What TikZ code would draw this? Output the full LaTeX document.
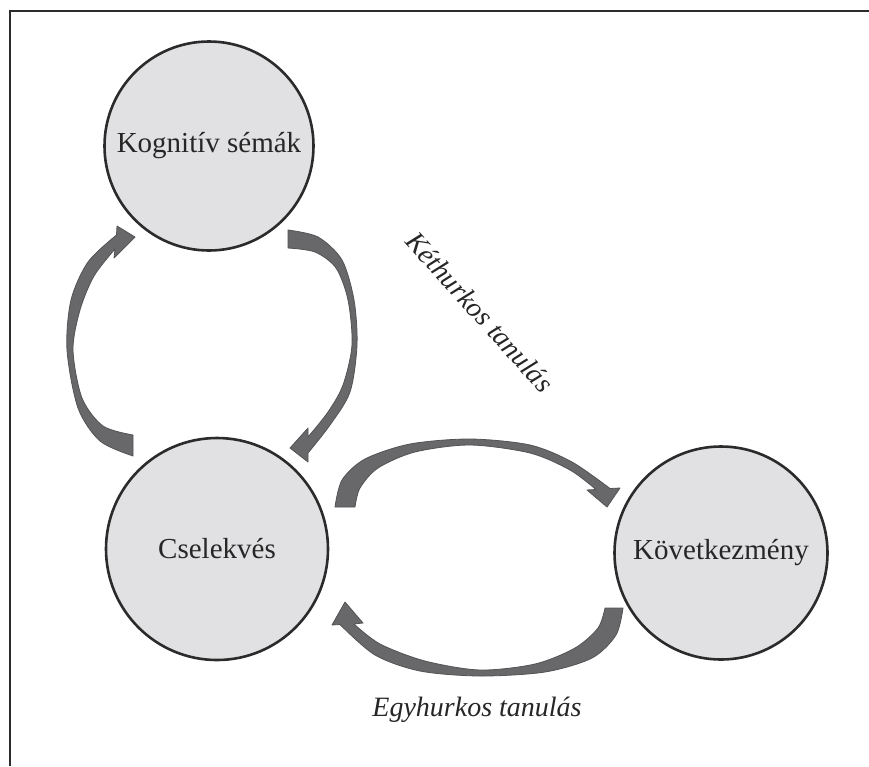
\documentclass[tikz,border=0pt]{standalone}
\usepackage{fontspec}
\setmainfont{Liberation Serif}
\usepackage{xcolor}
\usepackage{tikz}
\definecolor{korszurke}{HTML}{E1E1E3}
\definecolor{nyilszurke}{HTML}{68686B}
\definecolor{vonal}{HTML}{2B2B2B}

\begin{document}
\begin{tikzpicture}[x=1pt, y=-1pt,
        kor/.style={circle, draw=vonal, line width=2.6pt, fill=korszurke, inner sep=0pt,
            text=black!85, font=\fontsize{29}{32}\selectfont},
        nyil/.style={fill=nyilszurke, draw=nyilszurke!80!black, line width=0.8pt, line join=round},
        felirat/.style={text=black!85, font=\fontsize{28}{32}\selectfont\itshape}]
        \useasboundingbox (0, 0) rectangle (869, 766);
        \draw[vonal, line width=2.4pt] (10, 766) -- (10, 11) -- (869, 11);

        \node[kor, minimum size=209pt] (kog) at (209, 146) {Kognitív sémák};
        \node[kor, minimum size=222pt] (csel) at (217, 549) {Cselekvés};
        \node[kor, minimum size=213pt] (kov) at (721, 553) {Következmény};

        % bal oldali nyil: cselekves -> semak
        \filldraw[nyil] plot[smooth] coordinates {
                (133, 456) (100, 441) (78, 408) (67, 350) (71, 300) (88, 262) (116.5, 235)
            } -- (117, 226) -- (135, 237) -- (114, 258) -- (115, 249)
            -- plot[smooth] coordinates {
                (115, 249) (94, 276) (80, 310) (73, 350) (82, 398) (103, 426) (133, 435)
            } -- cycle;

        % jobb oldali nyil: semak -> cselekves
        \filldraw[nyil] plot[smooth] coordinates {
                (288, 230) (318, 237) (342, 260) (354, 300) (357, 345) (350, 392) (330, 425) (308, 453)
            } -- (308, 462) -- (290, 448) -- (308, 428) -- (308, 437)
            -- plot[smooth] coordinates {
                (308, 437) (328, 412) (343, 385) (352, 345) (348, 300) (336, 268) (315, 252) (288, 248)
            } -- cycle;

        % felso nyil: cselekves -> kovetkezmeny
        \filldraw[nyil] plot[smooth] coordinates {
                (335, 507) (342, 480) (365, 459) (410, 444) (470, 439) (530, 445) (572, 462) (610, 488.5)
            } -- (620, 488) -- (607, 507) -- (587, 490) -- (596, 489.5)
            -- plot[smooth] coordinates {
                (596, 489.5) (570, 470) (530, 453) (470, 445) (415, 452) (378, 468) (360, 488) (355, 507)
            } -- cycle;

        % also nyil: kovetkezmeny -> cselekves
        \filldraw[nyil] plot[smooth] coordinates {
                (623, 608) (616, 635) (592, 658) (545, 672) (480, 676) (420, 671) (375, 655) (340, 624.5)
            } -- (332, 625) -- (345, 602) -- (363, 623) -- (354, 624)
            -- plot[smooth] coordinates {
                (354, 624) (380, 644) (425, 661) (480, 670) (535, 664) (575, 648) (598, 628) (605, 608)
            } -- cycle;

        \node[felirat, rotate=-48] (ket) at (480, 312) {Kéthurkos tanulás};
        \node[felirat] (egy) at (477, 710) {Egyhurkos tanulás};
    \end{tikzpicture}
\end{document}
